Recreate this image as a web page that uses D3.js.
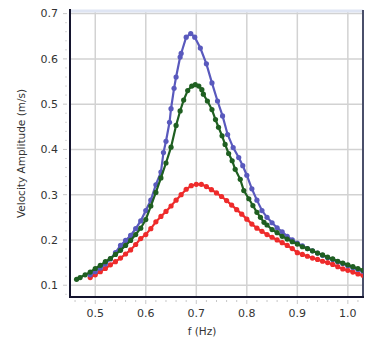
<!DOCTYPE html>
<html>
<head>
<meta charset="utf-8">
<script src="https://cdn.jsdelivr.net/npm/d3@7"></script>
<style>
  body { margin: 0; background: #fff; }
  text { font-family: "DejaVu Sans", sans-serif; fill: #333; }
</style>
</head>
<body>
<svg width="379" height="339"></svg>
<script>
let width = 379,
    height = 339;

let margin = {top: 10, right: 16, bottom: 42, left: 70};

// frequencies (Hz)
let freqBlue = [0.49, 0.50, 0.51, 0.52, 0.53, 0.54, 0.55, 0.56, 0.57, 0.58, 0.59, 0.60, 0.61, 0.62, 0.63, 0.635, 0.64, 0.647, 0.65, 0.656, 0.66, 0.668, 0.67, 0.68, 0.689, 0.697, 0.708, 0.72, 0.731, 0.742, 0.752, 0.762, 0.773, 0.784, 0.792, 0.80, 0.81, 0.82, 0.83, 0.84, 0.85, 0.86, 0.87, 0.88, 0.89, 0.90, 0.91, 0.92, 0.93, 0.94, 0.95, 0.96, 0.97, 0.98, 0.99, 1.00, 1.01, 1.02, 1.03];
let ampBlue = [0.123, 0.130, 0.138, 0.147, 0.158, 0.172, 0.188, 0.199, 0.210, 0.225, 0.242, 0.265, 0.288, 0.322, 0.350, 0.393, 0.418, 0.460, 0.490, 0.535, 0.560, 0.604, 0.612, 0.648, 0.656, 0.648, 0.624, 0.589, 0.547, 0.507, 0.474, 0.433, 0.404, 0.382, 0.364, 0.343, 0.313, 0.288, 0.265, 0.250, 0.238, 0.227, 0.218, 0.208, 0.200, 0.193, 0.187, 0.181, 0.176, 0.171, 0.166, 0.161, 0.157, 0.152, 0.148, 0.143, 0.139, 0.135, 0.131];

let freqGreen = [0.463, 0.47, 0.48, 0.49, 0.50, 0.51, 0.52, 0.53, 0.54, 0.55, 0.56, 0.57, 0.58, 0.59, 0.60, 0.61, 0.62, 0.63, 0.64, 0.65, 0.66, 0.668, 0.675, 0.683, 0.691, 0.698, 0.705, 0.711, 0.714, 0.722, 0.731, 0.738, 0.744, 0.751, 0.757, 0.764, 0.771, 0.777, 0.787, 0.794, 0.804, 0.812, 0.82, 0.827, 0.834, 0.84, 0.85, 0.86, 0.87, 0.88, 0.89, 0.90, 0.91, 0.92, 0.93, 0.94, 0.95, 0.96, 0.97, 0.98, 0.99, 1.00, 1.01, 1.02, 1.03];
let ampGreen = [0.113, 0.117, 0.123, 0.129, 0.137, 0.144, 0.152, 0.159, 0.168, 0.177, 0.188, 0.199, 0.212, 0.226, 0.245, 0.275, 0.305, 0.337, 0.370, 0.405, 0.453, 0.485, 0.509, 0.530, 0.540, 0.543, 0.540, 0.532, 0.522, 0.507, 0.488, 0.466, 0.449, 0.430, 0.411, 0.391, 0.375, 0.356, 0.334, 0.309, 0.291, 0.276, 0.261, 0.250, 0.239, 0.233, 0.223, 0.216, 0.208, 0.202, 0.196, 0.191, 0.185, 0.181, 0.176, 0.171, 0.167, 0.162, 0.158, 0.153, 0.149, 0.145, 0.141, 0.137, 0.133];

let freqRed = [0.49, 0.50, 0.51, 0.52, 0.53, 0.54, 0.55, 0.56, 0.57, 0.58, 0.59, 0.60, 0.61, 0.62, 0.63, 0.64, 0.65, 0.66, 0.67, 0.68, 0.69, 0.70, 0.71, 0.72, 0.73, 0.74, 0.75, 0.76, 0.77, 0.78, 0.79, 0.80, 0.81, 0.82, 0.83, 0.84, 0.85, 0.86, 0.87, 0.88, 0.89, 0.90, 0.91, 0.92, 0.93, 0.94, 0.95, 0.96, 0.97, 0.98, 0.99, 1.00, 1.01, 1.02, 1.03];
let ampRed = [0.117, 0.123, 0.130, 0.137, 0.145, 0.152, 0.160, 0.169, 0.178, 0.190, 0.203, 0.212, 0.225, 0.240, 0.252, 0.263, 0.275, 0.288, 0.300, 0.312, 0.320, 0.323, 0.323, 0.318, 0.311, 0.304, 0.296, 0.287, 0.277, 0.267, 0.257, 0.246, 0.235, 0.226, 0.219, 0.212, 0.206, 0.200, 0.194, 0.188, 0.181, 0.172, 0.168, 0.164, 0.160, 0.157, 0.153, 0.150, 0.146, 0.141, 0.136, 0.133, 0.129, 0.125, 0.122];

let xTicks = [0.5, 0.6, 0.7, 0.8, 0.9, 1.0],
    yTicks = [0.1, 0.2, 0.3, 0.4, 0.5, 0.6, 0.7],
    xMinor = [0.46, 0.48, 0.52, 0.54, 0.56, 0.58, 0.62, 0.64, 0.66, 0.68, 0.72, 0.74, 0.76, 0.78, 0.82, 0.84, 0.86, 0.88, 0.92, 0.94, 0.96, 0.98, 1.02],
    yMinor = [0.08, 0.12, 0.14, 0.16, 0.18, 0.22, 0.24, 0.26, 0.28, 0.32, 0.34, 0.36, 0.38, 0.42, 0.44, 0.46, 0.48, 0.52, 0.54, 0.56, 0.58, 0.62, 0.64, 0.66, 0.68];

let series = [
    {freq: freqRed, amp: ampRed, color: "#ee2b2b"},
    {freq: freqBlue, amp: ampBlue, color: "#5959bd"},
    {freq: freqGreen, amp: ampGreen, color: "#1f5f21"}
];

let x = d3.scaleLinear().domain([0.45, 1.03]).range([margin.left, width - margin.right]);
let y = d3.scaleLinear().domain([0.074, 0.708]).range([height - margin.bottom, margin.top]);

let svg = d3.select("svg");

// grid
svg.append("g")
    .selectAll("line")
    .data(xTicks)
    .join("line")
    .attr("x1", d => x(d)).attr("x2", d => x(d))
    .attr("y1", margin.top).attr("y2", height - margin.bottom)
    .attr("stroke", "#d2d2d2")
    .attr("stroke-width", 1.5);

svg.append("g")
    .selectAll("line")
    .data(yTicks)
    .join("line")
    .attr("x1", margin.left).attr("x2", width - margin.right)
    .attr("y1", d => y(d)).attr("y2", d => y(d))
    .attr("stroke", "#d2d2d2")
    .attr("stroke-width", 1.5);

// minor ticks outside the frame
svg.append("g")
    .selectAll("line")
    .data(xMinor)
    .join("line")
    .attr("x1", d => x(d)).attr("x2", d => x(d))
    .attr("y1", height - margin.bottom + 3).attr("y2", height - margin.bottom + 5)
    .attr("stroke", "#c8c8c8");

svg.append("g")
    .selectAll("line")
    .data(xTicks)
    .join("line")
    .attr("x1", d => x(d)).attr("x2", d => x(d))
    .attr("y1", height - margin.bottom + 3).attr("y2", height - margin.bottom + 7)
    .attr("stroke", "#c8c8c8");

svg.append("g")
    .selectAll("line")
    .data(yMinor)
    .join("line")
    .attr("x1", margin.left - 5).attr("x2", margin.left - 3)
    .attr("y1", d => y(d)).attr("y2", d => y(d))
    .attr("stroke", "#d8d8d8");

svg.append("g")
    .selectAll("line")
    .data(yTicks)
    .join("line")
    .attr("x1", margin.left - 7).attr("x2", margin.left - 3)
    .attr("y1", d => y(d)).attr("y2", d => y(d))
    .attr("stroke", "#c8c8c8");

// frame
svg.append("line")
    .attr("x1", margin.left).attr("x2", width - margin.right)
    .attr("y1", margin.top + 1).attr("y2", margin.top + 1)
    .attr("stroke", "#dfe5f3").attr("stroke-width", 3);

svg.append("line")
    .attr("x1", width - margin.right).attr("x2", width - margin.right)
    .attr("y1", margin.top).attr("y2", height - margin.bottom)
    .attr("stroke", "#4a4f6a").attr("stroke-width", 2);

// curves
let line = d3.line()
    .x(d => x(d[0]))
    .y(d => y(d[1]));

let clip = svg.append("clipPath").attr("id", "plot")
    .append("rect")
    .attr("x", margin.left).attr("y", margin.top)
    .attr("width", width - margin.left - margin.right)
    .attr("height", height - margin.top - margin.bottom);

let curves = svg.append("g").attr("clip-path", "url(#plot)");

series.forEach(s => {
    let pts = s.freq.map((f, i) => [f, s.amp[i]]);
    curves.append("path")
        .datum(pts)
        .attr("fill", "none")
        .attr("stroke", s.color)
        .attr("stroke-width", 2.2)
        .attr("d", line);
    curves.append("g")
        .selectAll("circle")
        .data(pts)
        .join("circle")
        .attr("cx", d => x(d[0]))
        .attr("cy", d => y(d[1]))
        .attr("r", 2.6)
        .attr("fill", s.color);
});

// left and bottom axis lines
svg.append("line")
    .attr("x1", margin.left).attr("x2", margin.left)
    .attr("y1", margin.top - 1).attr("y2", height - margin.bottom + 1)
    .attr("stroke", "#14142e").attr("stroke-width", 2);

svg.append("line")
    .attr("x1", margin.left - 1).attr("x2", width - margin.right + 1)
    .attr("y1", height - margin.bottom).attr("y2", height - margin.bottom)
    .attr("stroke", "#14142e").attr("stroke-width", 2);

// tick labels
svg.append("g")
    .selectAll("text")
    .data(xTicks)
    .join("text")
    .attr("x", d => x(d))
    .attr("y", height - margin.bottom + 20)
    .attr("text-anchor", "middle")
    .attr("font-size", 11)
    .text(d => d3.format(".1f")(d));

svg.append("g")
    .selectAll("text")
    .data(yTicks)
    .join("text")
    .attr("x", margin.left - 12)
    .attr("y", d => y(d))
    .attr("dy", "0.35em")
    .attr("text-anchor", "end")
    .attr("font-size", 11)
    .text(d => d3.format(".1f")(d));

// axis titles
svg.append("text")
    .attr("x", 202)
    .attr("y", 335)
    .attr("text-anchor", "middle")
    .attr("font-size", 10.5)
    .text("f (Hz)");

svg.append("text")
    .attr("transform", "translate(25," + ((margin.top + height - margin.bottom) / 2) + ") rotate(-90)")
    .attr("text-anchor", "middle")
    .attr("font-size", 10.5)
    .text("Velocity Amplitude (m/s)");
</script>
</body>
</html>
